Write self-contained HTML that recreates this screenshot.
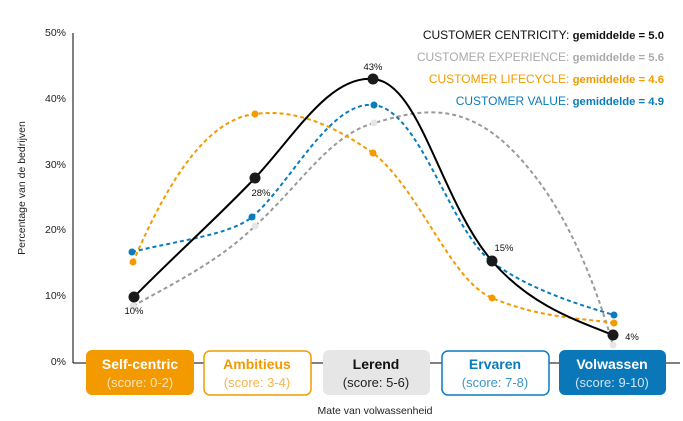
<!DOCTYPE html>
<html><head><meta charset="utf-8"><style>
body{margin:0;background:#fff;}
svg{display:block;font-family:"Liberation Sans",sans-serif;}
</style></head><body>
<svg width="683" height="421" viewBox="0 0 683 421" xmlns="http://www.w3.org/2000/svg">
<line x1="73" y1="33" x2="73" y2="363" stroke="#000" stroke-width="1"/>
<line x1="73" y1="363" x2="680" y2="363" stroke="#000" stroke-width="1"/>
<g font-size="10.5" fill="#222" text-anchor="end">
<text x="66" y="36">50%</text><text x="66" y="102">40%</text><text x="66" y="168">30%</text>
<text x="66" y="233">20%</text><text x="66" y="299">10%</text><text x="66" y="365">0%</text>
</g>
<text transform="translate(25,188) rotate(-90)" font-size="10.5" text-anchor="middle" fill="#222">Percentage van de bedrijven</text>
<text x="375" y="414" font-size="10.5" text-anchor="middle" fill="#222">Mate van volwassenheid</text>

<g font-size="12" text-anchor="end">
<text x="664" y="39" fill="#111">CUSTOMER CENTRICITY: <tspan font-weight="bold" font-size="11.3">gemiddelde = 5.0</tspan></text>
<text x="664" y="61" fill="#aaa">CUSTOMER EXPERIENCE: <tspan font-weight="bold" font-size="11.3">gemiddelde = 5.6</tspan></text>
<text x="664" y="83" fill="#f29a00">CUSTOMER LIFECYCLE: <tspan font-weight="bold" font-size="11.3">gemiddelde = 4.6</tspan></text>
<text x="664" y="105" fill="#0a7bbd">CUSTOMER VALUE: <tspan font-weight="bold" font-size="11.3">gemiddelde = 4.9</tspan></text>
</g>

<g fill="none" stroke-width="2" stroke-dasharray="4,3">
<path stroke="#999" d="M133,306 C180,280 220,260 255,226 C300,185 330,135 374,123 C420,110 470,95 530,170 C575,225 600,300 613,345"/>
<path stroke="#f29a00" d="M133,262 C160,200 200,120 255,114 C300,108 340,130 373,153 C420,190 450,280 492,298 C540,318 580,318 614,323"/>
<path stroke="#0a7bbd" d="M132,252 C180,240 230,235 252,217 C290,185 330,100 374,105 C420,110 450,230 492,262 C530,290 580,305 614,315"/>
</g>
<path fill="none" stroke="#000" stroke-width="2" d="M134,297 C175,255 215,220 255,178 C295,135 330,75 373,79 C420,82 440,200 492,261 C530,305 575,320 613,335"/>
<g fill="#e6e6e6"><circle cx="133" cy="306" r="3.5"/><circle cx="255" cy="226" r="3.5"/><circle cx="374" cy="123" r="3.5"/><circle cx="613" cy="345" r="3.5"/></g>
<g fill="#f29a00"><circle cx="133" cy="262" r="3.5"/><circle cx="255" cy="114" r="3.5"/><circle cx="373" cy="153" r="3.5"/><circle cx="492" cy="298" r="3.5"/><circle cx="614" cy="323" r="3.5"/></g>
<g fill="#0a7bbd"><circle cx="132" cy="252" r="3.5"/><circle cx="252" cy="217" r="3.5"/><circle cx="374" cy="105" r="3.5"/><circle cx="614" cy="315" r="3.5"/></g>
<g fill="#1a1a1a"><circle cx="134" cy="297" r="5.5"/><circle cx="255" cy="178" r="5.5"/><circle cx="373" cy="79" r="5.5"/><circle cx="492" cy="261" r="5.5"/><circle cx="613" cy="335" r="5.5"/></g>
<g font-size="9.5" fill="#111" text-anchor="middle">
<text x="134" y="314">10%</text><text x="261" y="196">28%</text><text x="373" y="70">43%</text><text x="504" y="251">15%</text><text x="632" y="340">4%</text>
</g>

<rect x="86" y="350" width="108" height="45" rx="6" fill="#f29a00"/>
<rect x="204" y="351" width="107" height="44" rx="6" fill="#fff" stroke="#f29a00" stroke-width="1.5"/>
<rect x="323" y="350" width="107" height="45" rx="6" fill="#e6e6e6"/>
<rect x="442" y="351" width="107" height="44" rx="6" fill="#fff" stroke="#0a7bbd" stroke-width="1.5"/>
<rect x="559" y="350" width="107" height="45" rx="6" fill="#0a77b8"/>
<g text-anchor="middle" font-size="14" font-weight="bold">
<text x="140" y="369" fill="#fff">Self-centric</text>
<text x="257" y="369" fill="#f29a00">Ambitieus</text>
<text x="376" y="369" fill="#111">Lerend</text>
<text x="495" y="369" fill="#0a7bbd">Ervaren</text>
<text x="612" y="369" fill="#fff">Volwassen</text>
</g>
<g text-anchor="middle" font-size="13">
<text x="140" y="387" fill="#fde3b8">(score: 0-2)</text>
<text x="257" y="387" fill="#f5b44a">(score: 3-4)</text>
<text x="376" y="387" fill="#222">(score: 5-6)</text>
<text x="495" y="387" fill="#3a95cc">(score: 7-8)</text>
<text x="612" y="387" fill="#cfe3f1">(score: 9-10)</text>
</g>
</svg>
</body></html>
